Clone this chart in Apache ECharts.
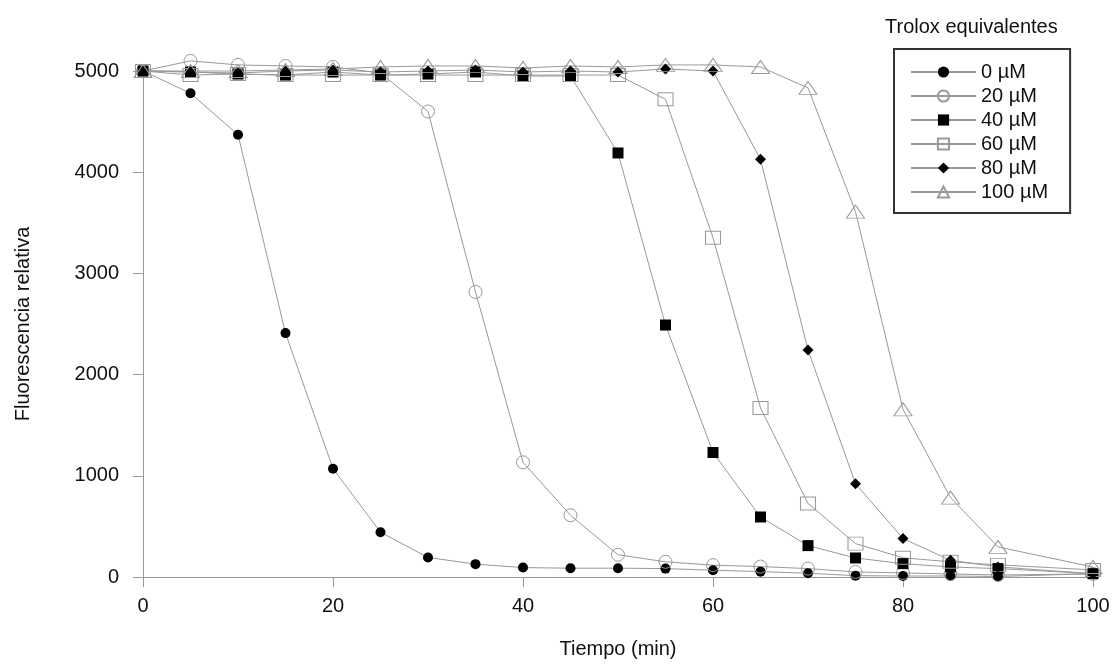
<!DOCTYPE html>
<html>
<head>
<meta charset="utf-8">
<title>Trolox</title>
<script src="https://cdn.jsdelivr.net/npm/echarts@6/dist/echarts.min.js"></script>
<style>
  html, body { margin: 0; padding: 0; background: #fff; }
  #chart { width: 1117px; height: 666px; }
</style>
</head>
<body>
<div id="chart"></div>
<script>
// tiempo (min) - no hay lectura a los 95 min
var times = [0, 5, 10, 15, 20, 25, 30, 35, 40, 45, 50, 55, 60, 65, 70, 75, 80, 85, 90, 100];

var s0 = [5000, 4780, 4370, 2410, 1070, 443, 193, 127, 93, 87, 87, 83, 67, 53, 37, 13, 10, 10, 5, 33];
var s20 = [5000, 5100, 5060, 5050, 5040, 4980, 4600, 2817, 1133, 610, 220, 150, 117, 103, 83, 50, 40, 30, 20, 30];
var s40 = [5000, 4990, 4970, 4960, 4990, 4960, 4970, 4990, 4950, 4950, 4190, 2490, 1230, 593, 310, 188, 132, 99, 83, 33];
var s60 = [5000, 4960, 4970, 4960, 4960, 4960, 4960, 4960, 4960, 4960, 4960, 4720, 3353, 1670, 727, 330, 190, 150, 120, 70];
var s80 = [5000, 4990, 4980, 5000, 5010, 4990, 5000, 5010, 4990, 5000, 4990, 5020, 5000, 4127, 2243, 922, 380, 165, 100, 33];
var s100 = [5000, 5000, 5000, 5010, 5020, 5040, 5050, 5050, 5030, 5050, 5040, 5060, 5060, 5040, 4833, 3610, 1657, 785, 297, 99];

var names = ["0 µM", "20 µM", "40 µM", "60 µM", "80 µM", "100 µM"];

var font = "Liberation Sans, Arial, sans-serif";
var lineGray = "#999";

function pairs(vals) {
  return times.map(function (t, i) { return [t, vals[i]]; });
}

function makeSeries(name, vals, symbol, size, filled) {
  return {
    name: name,
    type: "line",
    data: pairs(vals),
    symbol: symbol,
    symbolSize: size,
    showAllSymbol: true,
    clip: false,
    lineStyle: { color: lineGray, width: 1 },
    itemStyle: filled
      ? { color: "#000", borderColor: "#000", borderWidth: 0 }
      : { color: "transparent", borderColor: lineGray, borderWidth: 1 },
    emphasis: { disabled: true }
  };
}

var chart = echarts.init(document.getElementById("chart"));

var option = {
  animation: false,
  backgroundColor: "#fff",
  title: {
    text: "Trolox equivalentes",
    left: 880,
    top: 12,
    textStyle: { fontFamily: font, fontSize: 20, fontWeight: "normal", color: "#111" }
  },
  legend: {
    orient: "vertical",
    left: 894,
    top: 49,
    padding: [13, 22, 11, 16],
    itemWidth: 65,
    itemHeight: 14,
    itemGap: 4,
    borderColor: "#333",
    borderWidth: 2,
    textStyle: { fontFamily: font, fontSize: 20, color: "#111" },
    data: names
  },
  grid: {
    left: 143,
    right: 24,
    top: 71,
    bottom: 89
  },
  xAxis: {
    type: "value",
    min: 0,
    max: 100,
    interval: 20,
    name: "Tiempo (min)",
    nameLocation: "middle",
    nameGap: 62,
    nameTextStyle: { fontFamily: font, fontSize: 20, color: "#111" },
    axisLine: { lineStyle: { color: "#999", width: 1 } },
    axisTick: { show: true, inside: false, length: 10, lineStyle: { color: "#999" } },
    axisLabel: { fontFamily: font, fontSize: 20, color: "#111", margin: 19 },
    splitLine: { show: false }
  },
  yAxis: {
    type: "value",
    min: 0,
    max: 5000,
    interval: 1000,
    name: "Fluorescencia relativa",
    nameLocation: "middle",
    nameGap: 110,
    nameTextStyle: { fontFamily: font, fontSize: 20, color: "#111" },
    axisLine: { show: true, lineStyle: { color: "#999", width: 1 } },
    axisTick: { show: true, inside: false, length: 10, lineStyle: { color: "#999" } },
    axisLabel: {
      fontFamily: font, fontSize: 20, color: "#111", margin: 24,
      formatter: function (v) { return String(v); }
    },
    splitLine: { show: false }
  },
  series: [
    makeSeries(names[0], s0, "circle", 10, true),
    makeSeries(names[1], s20, "circle", 13, false),
    makeSeries(names[2], s40, "rect", 11, true),
    makeSeries(names[3], s60, "rect", [15, 13], false),
    makeSeries(names[4], s80, "diamond", 11, true),
    makeSeries(names[5], s100, "triangle", [18, 13], false)
  ]
};

chart.setOption(option);
</script>
</body>
</html>
